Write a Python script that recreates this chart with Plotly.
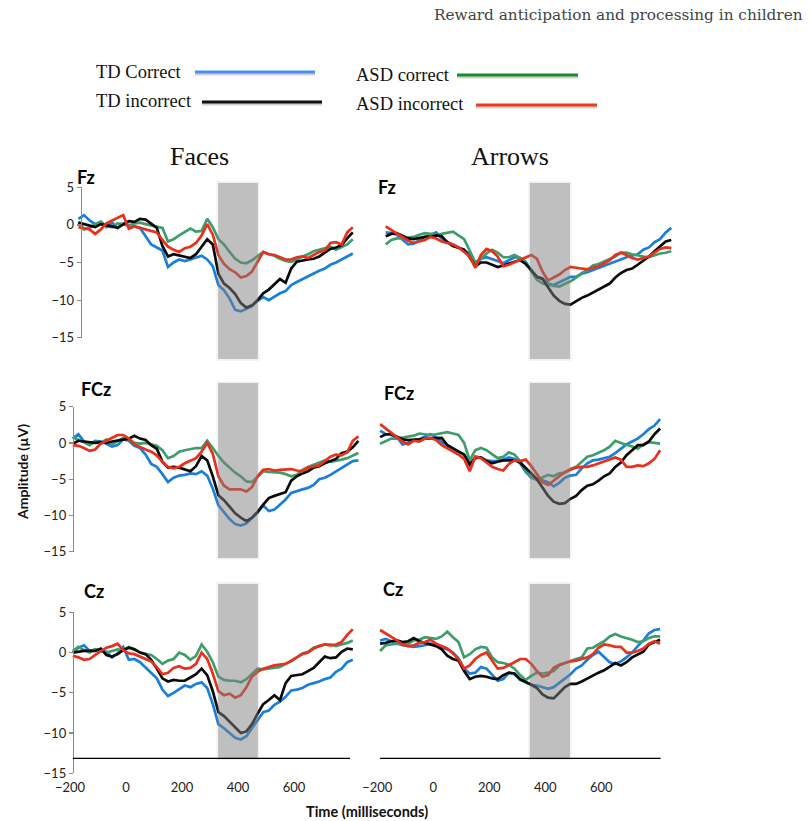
import plotly.graph_objects as go

# ---------------- data ----------------
time_ms = [-190, -170, -150, -130, -110, -90, -70, -50, -30, -10,
           10, 30, 50, 70, 90, 110, 130, 150, 170, 190,
           210, 230, 250, 270, 290, 310, 330, 350, 370, 390,
           410, 430, 450, 470, 490, 510, 530, 550, 570, 590,
           610, 630, 650, 670, 690, 710, 730, 750, 770, 790,
           810, 830, 850]

series_names = ["TD Correct", "TD incorrect", "ASD correct", "ASD incorrect"]
electrodes = ["Fz", "FCz", "Cz"]
conditions = ["Faces", "Arrows"]
y_ticks = [-15, -10, -5, 0, 5]
x_ticks = [-200, 0, 200, 400, 600]
window_faces_ms = [329, 471]
window_arrows_ms = [345, 488]

# Fz - Faces
fz_faces_td_correct = [None, 0.8, 1.3, 0.6, 0.1, 0.4, -0.3, 0.3, -0.4, 0.2,
    0.0, -0.3, -0.4, -1.5, -2.6, -3.0, -3.4, -5.6, -5.0, -4.6,
    -4.8, -4.6, -4.3, -4.1, -4.6, -5.5, -8.0, -8.7, -9.8, -11.3,
    -11.5, -11.2, -10.8, -10.1, -9.6, -10.0, -9.5, -9.1, -8.8, -8.0,
    -7.6, -7.2, -6.8, -6.5, -6.1, -5.8, -5.3, -5.0, -4.6, -4.2,
    -3.8, None, None]
fz_faces_td_incorrect = [None, 0.3, 0.1, -0.1, -0.3, 0.1, 0.0, -0.2, -0.4, 0.0,
    0.5, 0.4, 0.8, 0.7, 0.2, -0.4, -2.8, -4.2, -3.9, -4.1,
    -4.2, -4.4, -3.9, -2.9, -1.9, -2.6, -6.5, -7.8, -8.4, -9.2,
    -10.4, -11.0, -10.7, -10.0, -9.1, -8.6, -7.9, -7.2, -7.7, -5.8,
    -4.9, -4.7, -4.6, -4.5, -4.2, -3.7, -3.2, -3.0, -2.7, -1.8,
    -1.0, None, None]
fz_faces_asd_correct = [None, 0.4, -0.6, -0.4, 0.1, 0.4, -0.2, -0.3, 0.2, 0.1,
    -0.1, 0.2, 0.3, 0.1, -0.1, -0.2, -0.4, -2.2, -1.9, -1.4,
    -0.9, -0.5, -0.9, -0.8, 0.8, -0.3, -1.9, -2.6, -3.6, -4.5,
    -5.0, -5.1, -4.7, -4.1, -3.6, -3.9, -4.1, -4.5, -4.8, -4.9,
    -4.6, -4.3, -3.9, -3.5, -3.3, -3.0, -2.9, -3.3, -3.0, -2.6,
    -1.9, None, None]
fz_faces_asd_incorrect = [None, -0.3, -0.4, -0.6, -1.2, -0.6, 0.2, 0.6, 1.0, 1.3,
    -0.5, -0.2, -0.4, -0.6, -0.8, -1.0, -2.0, -2.9, -3.3, -3.6,
    -3.1, -2.9, -2.4, -1.4, 0.1, -1.3, -4.0, -5.2, -5.9, -6.3,
    -7.0, -6.8, -6.2, -4.8, -3.6, -3.9, -4.0, -4.3, -4.6, -4.6,
    -4.3, -4.2, -4.4, -4.0, -3.6, -3.4, -2.4, -2.3, -2.6, -1.0,
    -0.3, None, None]

# Fz - Arrows
fz_arrows_td_correct = [None, -1.0, -1.1, -1.3, -2.0, -2.6, -2.5, -2.0, -1.6, -1.3,
    -1.0, -1.8, -2.3, -2.6, -3.0, -3.3, -3.8, -5.5, -4.5, -4.3,
    -4.5, -4.8, -5.1, -4.7, -4.3, -4.4, -4.9, -6.1, -6.9, -7.1,
    -7.8, -8.0, -7.6, -7.2, -6.9, -6.9, -6.5, -6.3, -6.0, -5.7,
    -5.5, -5.1, -4.9, -4.5, -4.3, -4.1, -3.9, -3.3, -3.0, -2.3,
    -1.9, -1.0, -0.4]
fz_arrows_td_incorrect = [None, -1.5, -1.2, -1.1, -1.5, -1.8, -1.9, -1.7, -1.6, -1.6,
    -1.4, -1.5, -2.3, -2.8, -3.1, -3.3, -4.3, -5.5, -5.0, -5.0,
    -5.3, -5.6, -5.4, -5.1, -4.9, -4.7, -5.2, -6.0, -6.9, -7.2,
    -8.3, -9.4, -10.1, -10.5, -10.6, -10.1, -9.7, -9.4, -9.0, -8.6,
    -8.2, -7.8, -7.0, -6.4, -6.0, -5.8, -5.3, -4.8, -4.2, -3.5,
    -2.8, -2.2, -2.0]
fz_arrows_asd_correct = [None, -2.6, -2.0, -1.8, -1.8, -1.7, -1.6, -1.3, -1.1, -1.2,
    -1.3, -1.2, -1.0, -0.9, -1.4, -1.9, -3.4, -5.0, -4.5, -3.8,
    -3.3, -3.7, -4.3, -4.3, -4.0, -4.4, -5.0, -6.2, -7.3, -7.8,
    -8.0, -8.1, -8.2, -7.9, -7.5, -7.0, -6.4, -6.0, -5.4, -5.2,
    -4.9, -4.6, -4.2, -3.7, -3.7, -3.9, -4.0, -4.2, -4.3, -4.0,
    -3.8, -3.7, -3.5]
fz_arrows_asd_incorrect = [None, -0.2, -0.7, -1.2, -1.6, -2.1, -2.4, -2.2, -2.0, -1.6,
    -1.8, -2.2, -2.4, -2.6, -3.0, -3.6, -4.2, -5.7, -4.0, -3.2,
    -3.5, -4.2, -5.5, -5.3, -5.0, -4.7, -4.4, -4.0, -4.5, -6.2,
    -7.4, -7.0, -6.6, -6.0, -5.6, -5.7, -5.8, -5.9, -5.7, -5.5,
    -5.1, -4.7, -4.0, -3.7, -4.0, -4.4, -4.6, -4.4, -4.2, -3.7,
    -3.2, -3.0, -3.1]

# FCz - Faces
fcz_faces_td_correct = [0.6, 1.2, 0.2, -0.2, 0.3, 0.2, -0.1, -0.5, -0.3, 0.5,
    0.3, -0.4, -0.7, -1.6, -2.9, -3.3, -4.3, -5.4, -4.8, -4.5,
    -4.4, -4.2, -4.3, -3.9, -4.5, -6.3, -8.6, -9.5, -10.5, -11.2,
    -11.4, -11.1, -10.4, -9.6, -8.6, -9.4, -9.2, -8.5, -7.8, -6.9,
    -6.6, -6.4, -6.2, -5.8, -5.0, -4.8, -4.4, -3.9, -3.5, -3.0,
    -2.5, -2.4, None]
fcz_faces_td_incorrect = [-0.1, 0.3, 0.2, 0.1, 0.0, 0.1, 0.0, 0.2, 0.3, 0.5,
    0.6, 1.0, 0.6, 0.4, -0.3, -0.8, -2.6, -3.4, -3.3, -3.4,
    -3.7, -3.9, -3.2, -1.8, -2.4, -4.6, -7.2, -7.9, -8.8, -9.7,
    -10.3, -10.8, -10.3, -9.5, -8.5, -7.6, -7.3, -7.0, -6.8, -5.2,
    -4.6, -4.2, -3.9, -3.4, -3.2, -2.8, -2.5, -2.2, -1.4, -1.2,
    -0.6, 0.3, None]
fcz_faces_asd_correct = [0.8, 0.5, 0.1, -0.3, 0.2, 0.0, 0.5, -0.2, 0.3, 0.7,
    0.5, 0.0, -0.1, 0.0, -0.2, -0.4, -1.0, -2.1, -1.8, -1.2,
    -1.0, -0.8, -0.7, -0.7, 0.3, -0.7, -1.8, -2.7, -3.4, -4.1,
    -4.6, -5.3, -5.4, -4.6, -3.9, -4.0, -4.0, -4.1, -4.3, -4.6,
    -4.4, -3.7, -3.3, -3.0, -2.6, -2.4, -2.6, -2.5, -2.3, -2.1,
    -1.8, -1.4, None]
fcz_faces_asd_incorrect = [-0.3, -0.4, -0.7, -1.1, -0.9, -0.1, 0.3, 0.7, 1.1, 1.1,
    0.6, -0.2, -0.6, -0.9, -1.2, -1.7, -2.6, -3.3, -3.5, -3.3,
    -2.8, -2.5, -2.1, -1.2, 0.0, -1.5, -4.6, -5.9, -6.4, -6.4,
    -6.4, -6.7, -6.1, -4.6, -3.7, -3.6, -3.8, -3.7, -3.6, -3.6,
    -3.8, -3.9, -3.4, -3.3, -3.1, -2.5, -1.9, -1.6, -1.7, -1.3,
    0.3, 0.9, None]

# FCz - Arrows
fcz_arrows_td_correct = [1.7, 1.2, 1.1, 0.8, -0.2, 0.0, 0.4, 0.5, 0.9, 1.2,
    0.8, 0.1, -0.3, -0.7, -1.1, -1.6, -2.9, -1.9, -2.0, -2.4,
    -2.5, -2.5, -2.3, -2.0, -2.2, -2.8, -4.0, -4.8, -4.9, -5.2,
    -5.4, -6.0, -5.5, -4.8, -4.5, -4.4, -3.5, -2.8, -2.4, -2.3,
    -2.1, -1.9, -1.4, -0.8, -0.2, 0.2, 0.6, 1.2, 1.9, 2.4,
    3.3, None, None]
fcz_arrows_td_incorrect = [0.8, 1.2, 1.2, 0.8, 0.5, 0.4, 0.4, 0.5, 0.6, 0.6,
    0.7, 0.7, -0.3, -0.8, -1.2, -1.6, -3.0, -2.1, -2.0, -2.5,
    -2.8, -2.6, -2.4, -2.4, -2.4, -2.7, -3.4, -4.2, -5.0, -6.2,
    -7.3, -8.1, -8.4, -8.3, -7.7, -7.3, -6.5, -5.9, -5.7, -5.2,
    -4.6, -4.2, -3.3, -2.7, -1.7, -1.0, -0.3, -0.3, 0.2, 1.2,
    2.0, None, None]
fcz_arrows_asd_correct = [-0.1, 0.3, 0.6, 0.6, 0.7, 0.8, 1.0, 1.3, 1.2, 1.1,
    1.2, 1.3, 1.5, 1.3, 1.1, 0.0, -2.4, -1.0, -0.7, -1.0,
    -1.6, -2.1, -1.9, -1.3, -1.6, -2.5, -3.8, -4.8, -5.1, -4.8,
    -4.4, -4.6, -4.2, -4.1, -3.6, -3.3, -2.6, -1.9, -1.7, -1.4,
    -1.0, -0.5, 0.3, 0.0, -0.2, -0.5, -0.8, -0.2, 0.1, 0.0,
    -0.1, None, None]
fcz_arrows_asd_incorrect = [2.6, 2.0, 1.5, 0.8, 0.2, -0.2, 0.3, 0.2, 0.6, 0.7,
    0.4, -0.3, -0.7, -1.2, -1.6, -2.2, -3.9, -1.9, -2.1, -2.7,
    -3.3, -3.6, -3.8, -2.9, -2.4, -2.5, -2.3, -3.2, -4.3, -5.4,
    -5.8, -5.2, -4.6, -4.0, -3.7, -3.4, -3.3, -3.3, -3.1, -2.8,
    -2.5, -2.3, -2.0, -2.3, -3.3, -3.3, -3.1, -3.2, -2.8, -2.2,
    -1.0, None, None]

# Cz - Faces
cz_faces_td_correct = [0.0, 0.6, 0.9, 0.2, 0.4, 0.2, 0.1, -0.6, -0.1, 0.7,
    -0.9, -0.8, -1.2, -1.9, -2.6, -3.2, -4.6, -5.4, -5.0, -4.5,
    -4.1, -4.3, -3.9, -3.7, -4.4, -6.4, -8.9, -9.4, -10.0, -10.6,
    -10.8, -10.4, -9.4, -8.4, -7.4, -7.2, -6.5, -6.1, -5.5, -4.7,
    -4.6, -4.4, -4.0, -3.8, -3.6, -3.3, -3.1, -2.4, -2.0, -1.2,
    -0.9, None, None]
cz_faces_td_incorrect = [0.0, 0.1, 0.2, 0.2, 0.2, 0.5, -0.3, -0.5, -0.2, 0.3,
    0.6, 0.4, 0.0, -0.2, -0.9, -2.0, -3.2, -3.6, -3.4, -3.5,
    -3.5, -3.1, -2.7, -2.0, -2.8, -4.8, -7.4, -7.9, -8.6, -9.4,
    -10.0, -9.8, -8.9, -7.6, -6.4, -5.9, -5.3, -5.9, -3.8, -2.9,
    -2.8, -2.7, -2.3, -1.9, -1.2, -0.5, -0.7, -0.6, 0.1, 0.5,
    0.4, None, None]
cz_faces_asd_correct = [0.2, 0.7, 0.3, 0.0, 0.4, 0.2, 0.0, 0.2, 0.4, 0.3,
    0.7, 0.4, 0.0, -0.2, -0.3, -0.8, -1.4, -1.0, -0.8, 0.0,
    -0.3, -0.9, -0.4, 1.0, 0.1, -1.2, -3.0, -3.4, -3.5, -3.5,
    -3.7, -3.3, -2.7, -2.0, -2.1, -2.0, -1.9, -1.8, -1.4, -1.1,
    -0.6, -0.1, 0.1, 0.6, 0.8, 1.0, 1.0, 0.8, 1.0, 1.2,
    1.5, None, None]
cz_faces_asd_incorrect = [-0.4, -0.6, -0.9, -0.8, -0.3, 0.2, 0.6, 0.8, 1.1, 0.3,
    -0.1, -0.2, -0.5, -0.7, -1.1, -1.8, -2.7, -2.5, -1.9, -1.7,
    -2.0, -1.9, -1.4, 0.0, -0.8, -2.6, -4.8, -5.3, -5.1, -5.6,
    -5.3, -4.3, -3.0, -2.4, -2.0, -1.8, -1.6, -1.5, -1.4, -1.0,
    -0.6, -0.2, 0.0, 0.5, 0.8, 1.0, 0.9, 1.0, 1.3, 2.2,
    2.9, None, None]

# Cz - Arrows
cz_arrows_td_correct = [1.5, 1.7, 1.4, 1.2, 0.9, 0.8, 0.7, 0.8, 0.9, 1.1,
    1.0, 0.6, 0.4, 0.0, -0.7, -2.0, -2.6, -2.5, -1.8, -2.0,
    -2.7, -3.5, -3.3, -2.5, -2.7, -3.4, -3.7, -4.0, -4.1, -4.3,
    -4.5, -4.3, -3.8, -3.2, -2.7, -2.0, -1.6, -0.9, -0.3, 0.1,
    -0.5, -1.2, -1.4, -1.1, -0.6, 0.0, 0.8, 1.5, 2.4, 2.8,
    2.9, None, None]
cz_arrows_td_incorrect = [1.1, 1.2, 1.4, 1.5, 1.3, 1.4, 1.8, 1.4, 1.2, 1.0,
    0.8, 0.4, -0.4, -0.8, -1.0, -2.3, -3.3, -3.0, -2.9, -3.0,
    -3.2, -3.3, -2.8, -2.5, -2.6, -3.3, -3.6, -4.0, -4.4, -5.2,
    -5.6, -5.7, -5.0, -4.3, -3.9, -3.9, -3.6, -3.2, -2.8, -2.5,
    -2.2, -1.7, -1.3, -1.6, -1.2, -0.6, -0.2, 0.1, 1.0, 1.3,
    1.6, None, None]
cz_arrows_asd_correct = [0.2, 0.9, 1.0, 1.1, 1.0, 1.1, 1.5, 1.6, 1.9, 1.8,
    1.7, 2.0, 2.6, 1.9, 1.3, -0.6, -0.2, 0.4, 0.7, 0.6,
    -0.6, -1.2, -1.3, -1.5, -2.0, -2.8, -3.4, -2.9, -2.5, -2.6,
    -2.5, -2.3, -1.6, -1.3, -1.0, -0.8, -0.6, 0.5, 0.6, 1.0,
    1.4, 2.0, 2.3, 2.0, 1.8, 1.6, 1.3, 1.4, 1.8, 2.0,
    2.0, None, None]
cz_arrows_asd_incorrect = [2.8, 2.4, 1.9, 1.5, 1.0, 0.8, 0.9, 1.2, 1.3, 1.6,
    1.1, 0.8, 0.5, -0.1, -0.8, -2.0, -1.6, -0.8, -0.3, 0.0,
    -1.0, -2.0, -1.9, -1.6, -1.2, -0.8, -0.8, -1.4, -2.3, -3.0,
    -2.8, -1.9, -1.5, -1.3, -1.1, -1.0, -0.8, -0.6, -0.2, 0.6,
    1.0, 0.9, 0.7, 0.7, 0.0, 0.0, 0.2, 0.5, 1.1, 1.4,
    1.1, None, None]

panel_data = [
    [fz_faces_td_correct, fz_faces_td_incorrect, fz_faces_asd_correct, fz_faces_asd_incorrect],
    [fz_arrows_td_correct, fz_arrows_td_incorrect, fz_arrows_asd_correct, fz_arrows_asd_incorrect],
    [fcz_faces_td_correct, fcz_faces_td_incorrect, fcz_faces_asd_correct, fcz_faces_asd_incorrect],
    [fcz_arrows_td_correct, fcz_arrows_td_incorrect, fcz_arrows_asd_correct, fcz_arrows_asd_incorrect],
    [cz_faces_td_correct, cz_faces_td_incorrect, cz_faces_asd_correct, cz_faces_asd_incorrect],
    [cz_arrows_td_correct, cz_arrows_td_incorrect, cz_arrows_asd_correct, cz_arrows_asd_incorrect],
]

# ---------------- styling / layout ----------------
W, H = 811, 821
def fx(p):
    return p / W
def fy(p):
    return 1 - p / H

line_colors = ["#1a7fdc", "#0a0a0a", "#3d9e6c", "#e8301c"]
legend_colors = ["#4c8ff0", "#111111", "#1b8a2a", "#ee3a1f"]
draw_order = [0, 2, 1, 3]

X_RANGE = [-200, 860]
Y_RANGE = [-15, 5]
col_x_px = [(70, 366.8), (377.3, 674.1)]
row_y_px = [(187.3, 337.7), (406.7, 551.7), (612.3, 773.3)]
yaxis_pos_px = [80.7, 72.8, 72.8]
gray_y_frac = [(-0.142, 1.029), (-0.043, 1.163), (0.093, 1.176)]
label_pos = [[(86, 177), (387, 187)], [(96, 389), (399, 393)], [(94, 591), (393, 589)]]
axis_cross_value = -13.15
axis_line_span = [(-190, 800), (-190, 812)]

fig = go.Figure()
shapes = []
annotations = []
layout_axes = {}

tick_font = dict(family="Lato, 'Open Sans', sans-serif", size=13, color="#222")

for r in range(3):
    for c in range(2):
        i = r * 2 + c + 1
        sfx = "" if i == 1 else str(i)
        xa, ya = "x" + sfx, "y" + sfx
        data = panel_data[i - 1]
        for k in draw_order:
            fig.add_trace(go.Scatter(
                x=time_ms, y=data[k], mode="lines", xaxis=xa, yaxis=ya,
                line=dict(color=line_colors[k], width=2.7), name=series_names[k],
                showlegend=False, hoverinfo="skip", connectgaps=False))
        xd = [fx(col_x_px[c][0]), fx(col_x_px[c][1])]
        yd = [fy(row_y_px[r][1]), fy(row_y_px[r][0])]
        bottom = (r == 2)
        layout_axes["xaxis" + sfx] = dict(
            domain=xd, range=X_RANGE, anchor=ya, showgrid=False, zeroline=False,
            showline=False, ticks="", tickvals=x_ticks, showticklabels=bottom,
            tickfont=tick_font, visible=bottom, fixedrange=True, automargin=False,
            ticklabelstandoff=5)
        if c == 0:
            layout_axes["yaxis" + sfx] = dict(
                domain=yd, range=Y_RANGE, anchor="free", position=fx(yaxis_pos_px[r]),
                showgrid=False, zeroline=False, showline=True, linecolor="#8a8a8a",
                linewidth=1.5, ticks="outside", ticklen=4, tickcolor="#8a8a8a",
                tickwidth=1.2, tickvals=y_ticks, tickfont=tick_font, fixedrange=True,
                automargin=False)
        else:
            layout_axes["yaxis" + sfx] = dict(domain=yd, range=Y_RANGE, visible=False,
                                              anchor=xa, fixedrange=True, automargin=False)
        # highlighted time window (semi-transparent, above the traces)
        win = window_faces_ms if c == 0 else window_arrows_ms
        f0 = (win[0] - X_RANGE[0]) / (X_RANGE[1] - X_RANGE[0])
        f1 = (win[1] - X_RANGE[0]) / (X_RANGE[1] - X_RANGE[0])
        g0, g1 = gray_y_frac[r]
        span_x = xd[1] - xd[0]
        span_y = yd[1] - yd[0]
        hx = 1.6 / (W * span_x)
        hy = 1.6 / (H * span_y)
        shapes.append(dict(type="rect", xref=xa + " domain", yref=ya + " domain",
                           x0=f0 - hx, x1=f1 + hx, y0=g0 - hy, y1=g1 + hy,
                           fillcolor="rgba(129,128,129,0.12)", line=dict(width=0), layer="above"))
        shapes.append(dict(type="rect", xref=xa + " domain", yref=ya + " domain",
                           x0=f0, x1=f1, y0=g0, y1=g1,
                           fillcolor="rgba(129,128,129,0.43)", line=dict(width=0), layer="above"))
        if bottom:
            s0, s1 = axis_line_span[c]
            shapes.append(dict(type="line", xref=xa, yref=ya, x0=s0, x1=s1,
                               y0=axis_cross_value, y1=axis_cross_value,
                               line=dict(color="#000", width=1.2), layer="above"))
        lx, ly = label_pos[r][c]
        annotations.append(dict(text="<b>%s</b>" % electrodes[r], x=fx(lx), y=fy(ly),
                                xref="paper", yref="paper", showarrow=False,
                                font=dict(family="Lato, sans-serif", size=18, color="#000"),
                                xanchor="center", yanchor="middle"))

# column titles
for c, (cx, cy) in enumerate([(199, 156), (510, 156)]):
    annotations.append(dict(text=conditions[c], x=fx(cx), y=fy(cy), xref="paper", yref="paper",
                            showarrow=False, xanchor="center", yanchor="middle",
                            font=dict(family="Liberation Serif, 'Times New Roman', serif",
                                      size=26, color="#111")))

# header
annotations.append(dict(text="Reward anticipation and processing in children",
                        x=fx(805), y=fy(15), xref="paper", yref="paper", showarrow=False,
                        xanchor="right", yanchor="middle",
                        font=dict(family="DejaVu Serif, serif", size=15.3, color="#444")))

# axis titles
annotations.append(dict(text="<b>Amplitude (µV)</b>", x=fx(22), y=fy(472), xref="paper",
                        yref="paper", showarrow=False, textangle=-90,
                        xanchor="center", yanchor="middle",
                        font=dict(family="Lato, sans-serif", size=14, color="#111")))
annotations.append(dict(text="<b>Time (milliseconds)</b>", x=fx(367), y=fy(811), xref="paper",
                        yref="paper", showarrow=False, xanchor="center", yanchor="middle",
                        font=dict(family="Lato, sans-serif", size=14.5, color="#111")))

# legend (text followed by a line sample)
legend_items = [
    # text x, text y, line x0, line x1, line y
    (94, 72, 195, 315, 72),
    (94, 101, 202, 322, 102),
    (354, 75, 457, 578, 75),
    (354, 104, 476, 597, 105),
]
for k, (tx, ty, lx0, lx1, ly) in enumerate(legend_items):
    annotations.append(dict(text=series_names[k], x=fx(tx), y=fy(ty), xref="paper",
                            yref="paper", showarrow=False, xanchor="left", yanchor="middle",
                            font=dict(family="Liberation Serif, 'Times New Roman', serif",
                                      size=18.5, color="#111")))
    shapes.append(dict(type="line", xref="paper", yref="paper", x0=fx(lx0), x1=fx(lx1),
                       y0=fy(ly + 2), y1=fy(ly + 2),
                       line=dict(color="rgba(0,0,0,0.18)", width=3)))
    shapes.append(dict(type="line", xref="paper", yref="paper", x0=fx(lx0), x1=fx(lx1),
                       y0=fy(ly), y1=fy(ly), line=dict(color=legend_colors[k], width=3)))

fig.update_layout(
    width=W, height=H, margin=dict(l=0, r=0, t=0, b=0, autoexpand=False),
    paper_bgcolor="white", plot_bgcolor="white", showlegend=False,
    shapes=shapes, annotations=annotations, **layout_axes)

fig.write_html("out.html", include_plotlyjs=True, full_html=True,
               config=dict(displayModeBar=False, staticPlot=True))
